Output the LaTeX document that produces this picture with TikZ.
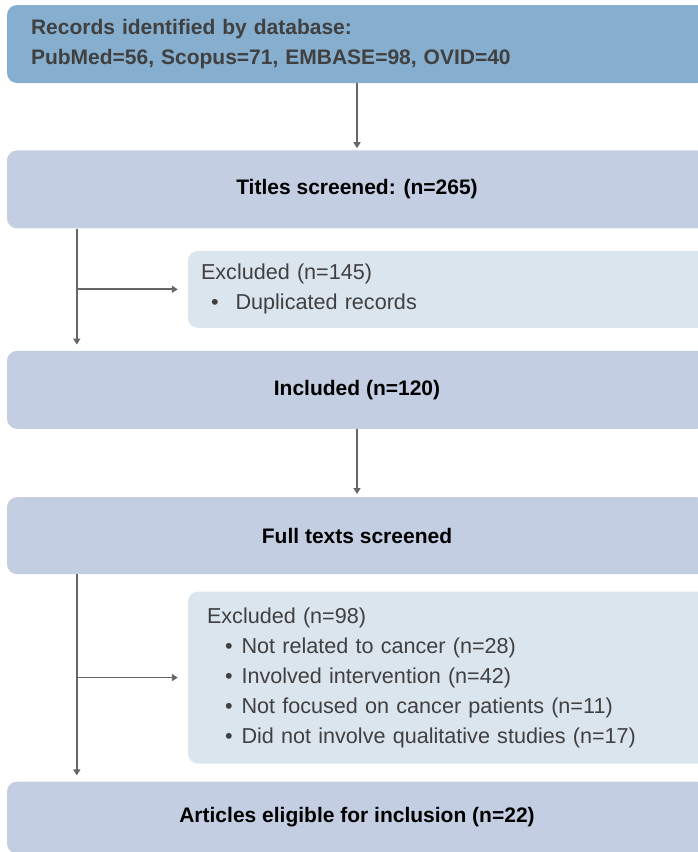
\documentclass[tikz,border=0pt]{standalone}
\usepackage{fontspec}
\setmainfont{Liberation Sans}
\usetikzlibrary{positioning,arrows.meta}

\definecolor{topblue}{HTML}{86AECF}
\definecolor{stepblue}{HTML}{C4CEE2}
\definecolor{exblue}{HTML}{DAE5EE}
\definecolor{linegray}{HTML}{666666}
\definecolor{textgray}{HTML}{404040}

\newcommand{\bul}[2]{\hspace*{#1}\textbullet\hspace{#2}}

\tikzset{
    flow/.style={line width=1.7pt, draw=linegray, -{Triangle[length=6pt,width=7pt]}},
    mainbox/.style={rounded corners=10pt, fill=stepblue, minimum width=700pt,
                    inner sep=0pt, font=\fontsize{21}{24}\selectfont\bfseries},
    topbox/.style={mainbox, fill=topblue, text=textgray, text width=652pt,
                   inner xsep=24pt, align=left, font=\fontsize{21}{30}\selectfont\bfseries},
    exbox/.style={rounded corners=10pt, fill=exblue, text=textgray, inner xsep=13pt,
                  text width=494pt, align=left, inner ysep=0pt,
                  font=\fontsize{21.6}{30}\selectfont},
    }

\begin{document}
\begin{tikzpicture}
    \clip (0,0) rectangle (698pt,-852pt);

    \node[topbox, minimum height=78pt] (rec) at (357pt,-44pt)
        {Records identified by database:\\PubMed=56, Scopus=71, EMBASE=98, OVID=40};
    \node[mainbox, minimum height=78pt] (tit) [below=67pt of rec] {Titles screened: (n=265)};
    \node[exbox, minimum height=77pt] (ex1) [below=22pt of tit.south west, anchor=north west, xshift=181pt]
        {Excluded (n=145)\\\bul{10pt}{17pt}Duplicated records};
    \node[mainbox, minimum height=78pt] (inc) [below=122pt of tit] {Included (n=120)};
    \node[mainbox, minimum height=77pt] (ful) [below=68pt of inc] {Full texts screened};
    \node[exbox, minimum height=172pt] (ex2) [below=17pt of ful.south west, anchor=north west, xshift=181pt]
        {\hspace*{6pt}Excluded (n=98)\\
         \bul{24pt}{9pt}Not related to cancer (n=28)\\
         \bul{24pt}{9pt}Involved intervention (n=42)\\
         \bul{24pt}{9pt}Not focused on cancer patients (n=11)\\
         \bul{24pt}{9pt}Did not involve qualitative studies (n=17)};
    \node[mainbox, minimum height=72pt] (art) [below=207pt of ful] {Articles eligible for inclusion (n=22)};

    \coordinate (b1) at ([xshift=70pt]tit.south west);
    \coordinate (b2) at ([xshift=70pt]ful.south west);

    \draw[flow, shorten >=2pt] (rec) -- (tit);
    \draw[flow, shorten >=6pt] (b1) -- (b1 |- inc.north);
    \draw[flow, shorten >=10pt] (b1 |- ex1.west) -- (ex1.west);
    \draw[flow, shorten >=3pt] (inc) -- (ful);
    \draw[flow, shorten >=6pt] (b2) -- (b2 |- art.north);
    \draw[flow, shorten >=10pt] (b2 |- ex2.west) -- (ex2.west);
\end{tikzpicture}
\end{document}
